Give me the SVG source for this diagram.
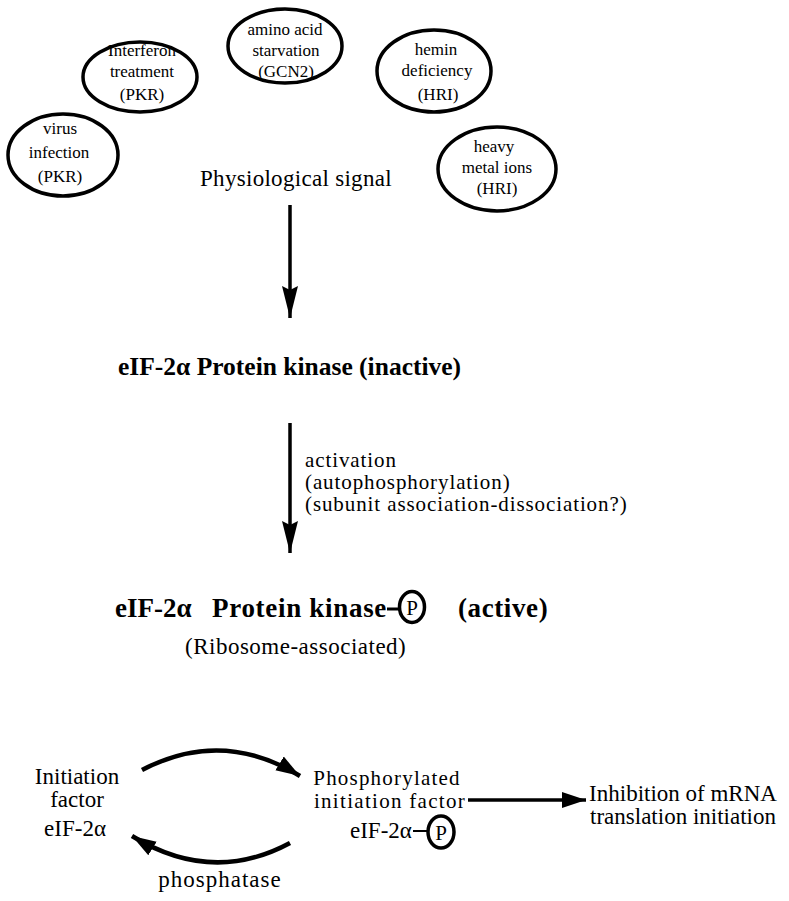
<svg xmlns="http://www.w3.org/2000/svg" width="789" height="901" viewBox="0 0 789 901">
<style>
text{font-family:"Liberation Serif","Times New Roman",serif;fill:#000}
.s{font-size:17px;text-anchor:middle}
.m{font-size:23px}
.a{font-size:21px;letter-spacing:0.9px}
.b{font-size:25.5px;font-weight:bold}
.bb{font-size:27px;font-weight:bold}
.ov{fill:none;stroke:#000;stroke-width:3.5}
.ln{fill:none;stroke:#000;stroke-width:3.5}
.cv{fill:none;stroke:#000;stroke-width:4.5}
</style>
<defs>
<marker id="ah" markerUnits="userSpaceOnUse" markerWidth="34" markerHeight="18" refX="32" refY="9" orient="auto">
<path d="M0,1 L32,9 L0,17 L4,9 z" fill="#000"/>
</marker>
<marker id="ahc" markerUnits="userSpaceOnUse" markerWidth="26" markerHeight="18" refX="24" refY="9" orient="auto">
<path d="M0,1 L24,9 L0,17 z" fill="#000"/>
</marker>
</defs>
<g id="n-virus"><ellipse class="ov" cx="63" cy="155" rx="55" ry="41"/>
<text class="s" x="60" y="134">virus</text><text class="s" x="59" y="158">infection</text><text class="s" x="60" y="182">(PKR)</text></g>
<g id="n-interferon"><ellipse class="ov" cx="140" cy="77" rx="57" ry="35"/>
<text class="s" x="142" y="56">Interferon</text><text class="s" x="142" y="77">treatment</text><text class="s" x="142" y="100">(PKR)</text></g>
<g id="n-amino"><ellipse class="ov" cx="285" cy="46" rx="57" ry="37"/>
<text class="s" x="285" y="35">amino acid</text><text class="s" x="286" y="56">starvation</text><text class="s" x="286" y="77">(GCN2)</text></g>
<g id="n-hemin"><ellipse class="ov" cx="434" cy="71" rx="57" ry="41"/>
<text class="s" x="436" y="55">hemin</text><text class="s" x="437" y="76">deficiency</text><text class="s" x="438" y="100">(HRI)</text></g>
<g id="n-heavy"><ellipse class="ov" cx="497" cy="169" rx="59" ry="42"/>
<text class="s" x="494" y="152">heavy</text><text class="s" x="497" y="173">metal ions</text><text class="s" x="497" y="194">(HRI)</text></g>
<g id="n-signal"><text class="m" x="200" y="186" letter-spacing="0.3">Physiological signal</text></g>
<g id="n-inactive"><text class="b" x="118" y="375">eIF-2α Protein kinase (inactive)</text></g>
<g id="n-activation"><text class="a" x="305" y="467">activation</text>
<text class="a" x="305" y="489">(autophosphorylation)</text>
<text class="a" x="305" y="511">(subunit association-dissociation?)</text></g>
<g id="n-active"><text class="bb" x="115" y="617">eIF-2α</text>
<text class="bb" x="212" y="617" letter-spacing="0.7">Protein kinase</text>
<line x1="387" y1="609" x2="400" y2="609" stroke="#000" stroke-width="3"/>
<ellipse class="ov" cx="412" cy="607" rx="12.5" ry="15.5" stroke-width="3"/>
<text x="412" y="615" font-size="21" text-anchor="middle">P</text>
<text class="bb" x="458" y="617" letter-spacing="0.6">(active)</text>
<text class="m" x="185" y="654" letter-spacing="0.5">(Ribosome-associated)</text></g>
<g id="n-initiation"><text class="m" x="77" y="784" text-anchor="middle">Initiation</text>
<text class="m" x="77" y="807" text-anchor="middle">factor</text>
<text class="m" x="75" y="836" text-anchor="middle">eIF-2α</text></g>
<g id="n-phospho"><text x="387" y="785" font-size="21" letter-spacing="1.2" text-anchor="middle">Phosphorylated</text>
<text x="390" y="808" font-size="21" letter-spacing="1.3" text-anchor="middle">initiation factor</text>
<text class="m" x="350" y="838">eIF-2α</text>
<line x1="413" y1="831" x2="428" y2="831" stroke="#000" stroke-width="2"/>
<ellipse class="ov" cx="441" cy="832" rx="13" ry="16" stroke-width="3"/>
<text x="441" y="840" font-size="21" text-anchor="middle">P</text></g>
<g id="n-inhibition"><text class="m" x="683" y="801" text-anchor="middle">Inhibition of mRNA</text>
<text class="m" x="683" y="824" text-anchor="middle">translation initiation</text></g>
<g id="n-phosphatase"><text class="m" x="220" y="887" letter-spacing="1" text-anchor="middle">phosphatase</text></g>
<g id="connectors">
<line class="ln" x1="290" y1="205" x2="290" y2="318" marker-end="url(#ah)"/>
<line class="ln" x1="290" y1="423" x2="290" y2="553" marker-end="url(#ah)"/>
<line class="ln" x1="468" y1="800" x2="586" y2="800" marker-end="url(#ahc)"/>
<path class="cv" d="M142,770 Q222,728 300,776" marker-end="url(#ahc)"/>
<path class="cv" d="M290,843 Q212,885 132,836" marker-end="url(#ahc)"/>
</g>
</svg>
